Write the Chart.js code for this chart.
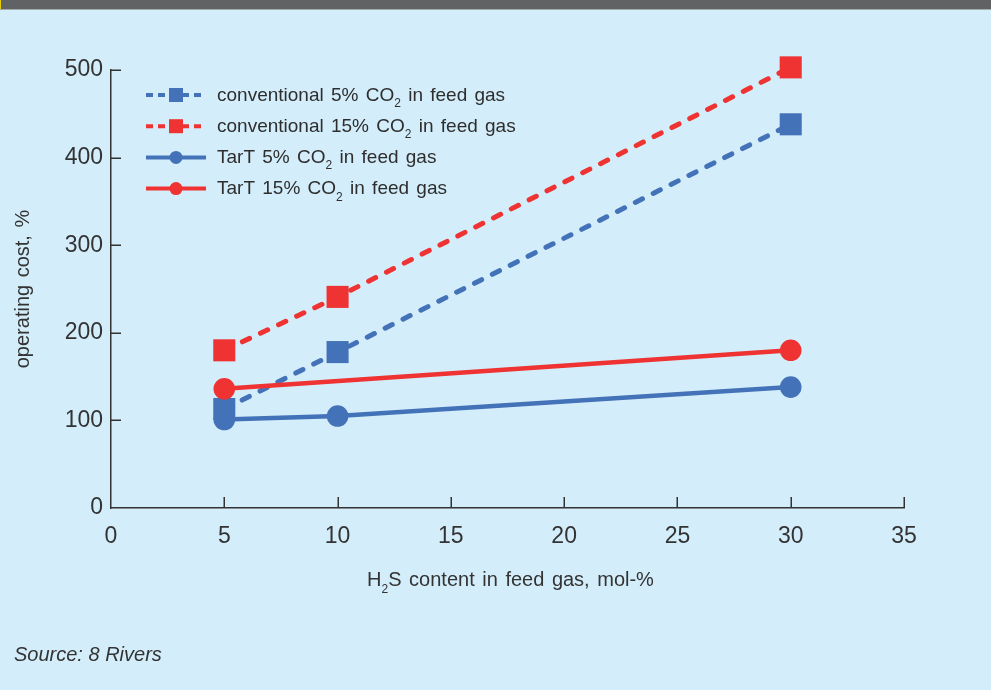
<!DOCTYPE html>
<html>
<head>
<meta charset="utf-8">
<script src="https://cdn.jsdelivr.net/npm/chart.js@4.4.1/dist/chart.umd.min.js"></script>
<style>
  html, body { margin: 0; padding: 0; background: #d3eefa; width: 991px; height: 690px; overflow: hidden; }
  #wrap { position: relative; width: 991px; height: 690px; }
  #bar { position: absolute; left: 0; top: 0; width: 991px; height: 9px; background: #616263; border-bottom: 1px solid #a4a9ab; }
  #yel { position: absolute; left: 0; top: 0; width: 1px; height: 9px; background: #e8d000; }
  canvas { position: absolute; left: 0; top: 0; }
</style>
</head>
<body>
<div id="wrap">
  <canvas id="c" width="991" height="690"></canvas>
  <div id="bar"></div>
  <div id="yel"></div>
</div>
<script>
// ---- data ----
const xValues = [5, 10, 30];
const xValuesTarT15 = [5, 30];
const conventional5 = [113, 178, 438];
const conventional15 = [180, 241, 503];
const tart5 = [101, 105, 138];
const tart15 = [136, 180];
const seriesLabels = [
  'conventional 5% CO₂ in feed gas',
  'conventional 15% CO₂ in feed gas',
  'TarT 5% CO₂ in feed gas',
  'TarT 15% CO₂ in feed gas'
];
const xTicks = [0, 5, 10, 15, 20, 25, 30, 35];
const yTicks = [0, 100, 200, 300, 400, 500];
const xTitle = 'H₂S content in feed gas, mol-%';
const yTitle = 'operating cost, %';
const sourceText = 'Source: 8 Rivers';

const BLUE = '#4472b8';
const RED = '#ef3232';
const INK = '#333333';
const FAMILY = '"Liberation Sans", Arial, sans-serif';

function pts(xs, ys) { return xs.map((x, i) => ({ x: x, y: ys[i] })); }

function drawRich(ctx, str, x, y, size, align, italic) {
  const parts = str.split('₂');
  const st = italic ? 'italic ' : '';
  const main = st + size + 'px ' + FAMILY;
  const sub = st + Math.round(size * 0.62) + 'px ' + FAMILY;
  let w = 0;
  parts.forEach((p, i) => {
    ctx.font = main; w += ctx.measureText(p).width;
    if (i < parts.length - 1) { ctx.font = sub; w += ctx.measureText('2').width; }
  });
  let cx = align === 'center' ? x - w / 2 : (align === 'right' ? x - w : x);
  ctx.textAlign = 'left';
  ctx.textBaseline = 'alphabetic';
  parts.forEach((p, i) => {
    ctx.font = main; ctx.fillText(p, cx, y); cx += ctx.measureText(p).width;
    if (i < parts.length - 1) {
      ctx.font = sub; ctx.fillText('2', cx, y + size * 0.33); cx += ctx.measureText('2').width;
    }
  });
}

const decor = {
  id: 'decor',
  beforeDatasetsDraw(chart) {
    const ctx = chart.ctx;
    const xs = chart.scales.x, ys = chart.scales.y;
    const ca = chart.chartArea;
    ctx.save();
    ctx.strokeStyle = INK;
    ctx.lineWidth = 1.5;
    xTicks.forEach(v => {
      if (v === 0) return;
      const px = Math.round(xs.getPixelForValue(v)) + 0.25;
      ctx.beginPath(); ctx.moveTo(px, ca.bottom); ctx.lineTo(px, ca.bottom - 11); ctx.stroke();
    });
    yTicks.forEach(v => {
      if (v === 0) return;
      const py = Math.round(ys.getPixelForValue(v)) + 0.25;
      ctx.beginPath(); ctx.moveTo(ca.left, py); ctx.lineTo(ca.left + 10, py); ctx.stroke();
    });
    ctx.restore();
  },
  afterDraw(chart) {
    const ctx = chart.ctx;
    const ca = chart.chartArea;
    ctx.save();
    ctx.fillStyle = INK;
    if ('wordSpacing' in ctx) ctx.wordSpacing = '2px';
    // axis titles
    drawRich(ctx, xTitle, (ca.left + ca.right) / 2 + 3, 586, 20, 'center');
    ctx.save();
    ctx.translate(29, (ca.top + ca.bottom) / 2);
    ctx.rotate(-Math.PI / 2);
    drawRich(ctx, yTitle, 0, 0, 20, 'center');
    ctx.restore();
    // legend
    chart.data.datasets.forEach((ds, i) => {
      const cy = 95 + i * 31.2;
      ctx.save();
      ctx.strokeStyle = ds.borderColor;
      ctx.lineWidth = 4;
      ctx.setLineDash(ds.borderDash && ds.borderDash.length ? [7, 5] : []);
      ctx.beginPath(); ctx.moveTo(146, cy); ctx.lineTo(206, cy); ctx.stroke();
      ctx.setLineDash([]);
      ctx.fillStyle = ds.borderColor;
      if (ds.pointStyle === 'rect') {
        ctx.fillRect(169, cy - 7, 14, 14);
      } else {
        ctx.beginPath(); ctx.arc(176, cy, 6.5, 0, Math.PI * 2); ctx.fill();
      }
      ctx.restore();
      ctx.fillStyle = '#2e2e2e';
      drawRich(ctx, ds.label, 217, cy + 5.8, 19, 'left');
    });
    // source
    ctx.fillStyle = '#333333';
    if ('wordSpacing' in ctx) ctx.wordSpacing = '0px';
    drawRich(ctx, sourceText, 14, 661, 20, 'left', true);
    ctx.restore();
  }
};

const common = { fill: false, clip: false, pointBorderWidth: 0, pointHoverRadius: 0, tension: 0 };

new Chart(document.getElementById('c'), {
  type: 'line',
  data: {
    datasets: [
      Object.assign({}, common, {
        label: seriesLabels[0], data: pts(xValues, conventional5), order: 3,
        borderColor: BLUE, backgroundColor: BLUE, pointBackgroundColor: BLUE,
        borderWidth: 5, borderDash: [8, 12], borderCapStyle: 'round',
        pointStyle: 'rect', pointRadius: 15.6
      }),
      Object.assign({}, common, {
        label: seriesLabels[1], data: pts(xValues, conventional15), order: 2,
        borderColor: RED, backgroundColor: RED, pointBackgroundColor: RED,
        borderWidth: 5, borderDash: [8, 12], borderCapStyle: 'round',
        pointStyle: 'rect', pointRadius: 15.6
      }),
      Object.assign({}, common, {
        label: seriesLabels[2], data: pts(xValues, tart5), order: 1,
        borderColor: BLUE, backgroundColor: BLUE, pointBackgroundColor: BLUE,
        borderWidth: 4.5, pointStyle: 'circle', pointRadius: 10.8
      }),
      Object.assign({}, common, {
        label: seriesLabels[3], data: pts(xValuesTarT15, tart15), order: 0,
        borderColor: RED, backgroundColor: RED, pointBackgroundColor: RED,
        borderWidth: 4.5, pointStyle: 'circle', pointRadius: 10.8
      })
    ]
  },
  options: {
    responsive: false,
    animation: false,
    events: [],
    layout: { padding: { left: 0, right: 87, top: 70, bottom: 0 } },
    plugins: { legend: { display: false }, tooltip: { enabled: false } },
    scales: {
      x: {
        type: 'linear', min: 0, max: 35,
        afterFit(s) { s.height = 182; },
        afterBuildTicks(s) { s.ticks = xTicks.map(v => ({ value: v })); },
        grid: { display: false, drawTicks: false },
        border: { display: true, color: INK, width: 1.5 },
        ticks: { color: INK, padding: 15, font: { family: FAMILY, size: 23 } }
      },
      y: {
        type: 'linear', min: 0, max: 500,
        afterFit(s) { s.width = 111; },
        afterBuildTicks(s) { s.ticks = yTicks.map(v => ({ value: v })); },
        grid: { display: false, drawTicks: false },
        border: { display: true, color: INK, width: 1.5 },
        ticks: { color: INK, padding: 8, font: { family: FAMILY, size: 23 } }
      }
    }
  },
  plugins: [decor]
});
</script>
</body>
</html>
